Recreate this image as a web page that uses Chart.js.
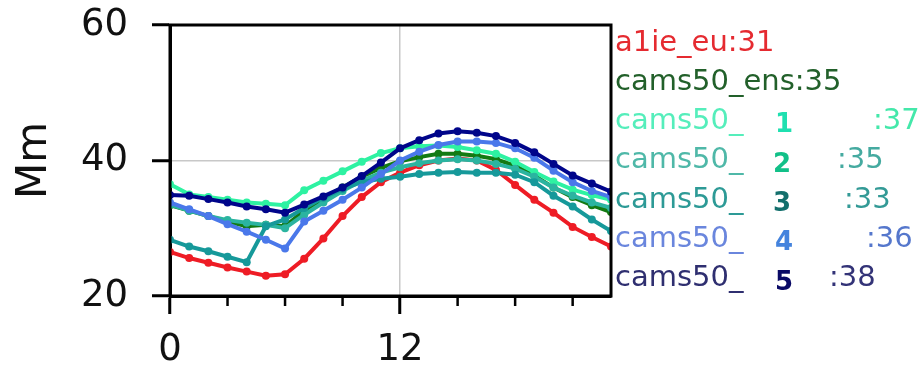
<!DOCTYPE html>
<html>
<head>
<meta charset="utf-8">
<script src="https://cdn.jsdelivr.net/npm/chart.js@4"></script>
<style>
  html, body { margin: 0; padding: 0; background: #fff; }
  #wrap { position: relative; width: 923px; height: 368px; }
</style>
</head>
<body>
<div id="wrap"><canvas id="c" width="923" height="368"></canvas></div>
<script>
// hours 0..23
const hours = Array.from({ length: 24 }, (_, i) => i);

const a1ieEu = [26.5, 25.6, 24.9, 24.2, 23.6, 23.0, 23.2, 25.5, 28.5, 31.8, 34.6, 36.8,
  38.2, 39.3, 40.0, 40.3, 40.0, 38.6, 36.4, 34.2, 32.3, 30.2, 28.7, 27.3];
const cams50Ens = [33.4, 32.6, 31.8, 31.0, 30.3, 30.5, 30.3, 32.6, 34.4, 36.0, 37.6, 38.9,
  39.9, 40.5, 41.0, 41.0, 40.7, 40.2, 39.2, 37.8, 36.0, 34.6, 33.4, 32.4];
const cams50m1 = [36.5, 35.0, 34.6, 34.2, 33.8, 33.6, 33.4, 35.6, 37.0, 38.4, 39.8, 41.1,
  41.8, 42.1, 42.2, 42.0, 41.5, 41.0, 39.8, 38.3, 36.9, 35.7, 34.9, 34.2];
const cams50m2 = [33.5, 32.6, 31.8, 31.2, 30.8, 30.5, 30.0, 32.0, 33.8, 35.5, 37.0, 38.2,
  39.0, 39.6, 40.0, 40.2, 40.0, 39.5, 38.8, 37.6, 36.0, 34.8, 33.8, 33.0];
const cams50m3 = [28.3, 27.3, 26.6, 25.8, 25.0, 30.3, 31.3, 33.0, 34.5, 35.8, 36.8, 37.3,
  37.6, 38.0, 38.2, 38.3, 38.2, 38.2, 37.9, 36.8, 34.8, 33.2, 31.3, 29.6];
const cams50m4 = [33.8, 32.8, 31.8, 30.6, 29.5, 28.3, 27.0, 31.0, 32.6, 34.2, 36.0, 38.0,
  40.0, 41.3, 42.3, 42.8, 42.8, 42.6, 41.8, 40.4, 38.5, 36.8, 35.5, 34.6];
const cams50m5 = [34.9, 34.8, 34.3, 33.8, 33.2, 32.8, 32.3, 33.5, 34.7, 36.0, 37.7, 39.7,
  41.8, 43.0, 44.0, 44.3, 44.1, 43.6, 42.6, 41.2, 39.5, 37.8, 36.6, 35.4];

const seriesNames = ["a1ie_eu", "cams50_ens", "cams50_1", "cams50_2", "cams50_3", "cams50_4", "cams50_5"];
const seriesScores = ["31", "35", "37", "35", "33", "36", "38"];
const yTicks = [20, 40, 60];
const xLabelTicks = [0, 12];

const lineColors = ["#ee1c25", "#137a13", "#2ef2a2", "#2bb4a0", "#16999a", "#4a78ea", "#00058a"];
const allValues = [a1ieEu, cams50Ens, cams50m1, cams50m2, cams50m3, cams50m4, cams50m5];

const datasets = allValues.map((vals, i) => ({
  label: seriesNames[i],
  data: vals.map((v, k) => ({ x: hours[k], y: v })),
  borderColor: lineColors[i],
  backgroundColor: lineColors[i],
  borderWidth: 4,
  pointRadius: 4,
  pointBorderWidth: 0,
  tension: 0,
  order: 6 - i,
}));

// legend text pieces: text, x offset, colour, bold
const legendRows = [
  [["a1ie_eu:" + seriesScores[0], 0, "#e52a30", false]],
  [["cams50_ens:" + seriesScores[1], 0, "#22602a", false]],
  [["cams50_", 0, "#55eebb", false], ["1", 160, "#1fe0b0", true], [":" + seriesScores[2], 258, "#44e8aa", false]],
  [["cams50_", 0, "#4fb8a8", false], ["2", 158, "#12c088", true], [":" + seriesScores[3], 222, "#45aaa0", false]],
  [["cams50_", 0, "#2d9a96", false], ["3", 158, "#136f6c", true], [":" + seriesScores[4], 229, "#339a96", false]],
  [["cams50_", 0, "#6a86dd", false], ["4", 160, "#4483dd", true], [":" + seriesScores[5], 251, "#5577cc", false]],
  [["cams50_", 0, "#2f2f70", false], ["5", 160, "#0a0a66", true], [":" + seriesScores[6], 214, "#333377", false]],
];

const framePlugin = {
  id: "frame",
  afterDraw(chart) {
    const ctx = chart.ctx;
    const a = chart.chartArea;
    const xs = chart.scales.x;
    ctx.save();
    // box
    ctx.strokeStyle = "#000";
    ctx.lineWidth = 3;
    ctx.strokeRect(a.left, a.top, a.right - a.left, a.bottom - a.top);
    // minor ticks every 3 hours
    ctx.lineWidth = 2.5;
    xs.ticks.forEach((t) => {
      if (t.value % 12 !== 0) {
        const px = xs.getPixelForValue(t.value);
        ctx.beginPath();
        ctx.moveTo(px, a.bottom);
        ctx.lineTo(px, a.bottom + 10);
        ctx.stroke();
      }
    });
    // legend text
    ctx.textBaseline = "middle";
    const x0 = a.right + 4;
    legendRows.forEach((row, i) => {
      const y = 43 + i * 39.3;
      row.forEach(([txt, dx, col, bold]) => {
        ctx.fillStyle = col;
        ctx.font = (bold ? "bold 26px" : "29px") + " 'DejaVu Sans'";
        ctx.fillText(txt, x0 + dx, bold ? y + 4 : y);
      });
    });
    ctx.restore();
  },
};

new Chart(document.getElementById("c"), {
  type: "line",
  data: { datasets: datasets },
  options: {
    responsive: false,
    animation: false,
    layout: { padding: { left: 0, right: 312, top: 25, bottom: 0 } },
    plugins: { legend: { display: false }, tooltip: { enabled: false } },
    scales: {
      x: {
        type: "linear",
        min: 0,
        max: 23,
        afterFit(scale) {
          scale.height = 72;
          scale.paddingLeft = 0;
          scale.paddingRight = 0;
        },
        afterBuildTicks(scale) {
          scale.ticks = hours.filter((h) => h % 3 === 0).map((h) => ({ value: h }));
        },
        border: { display: true, color: "#000", width: 3 },
        grid: {
          color: (c) => (c.tick && c.tick.value === xLabelTicks[1] ? "#c8c8c8" : "rgba(0,0,0,0)"),
          lineWidth: 1.5,
          tickLength: 18,
          tickColor: (c) => (c.tick && xLabelTicks.includes(c.tick.value) ? "#000" : "rgba(0,0,0,0)"),
          tickWidth: 3,
        },
        ticks: {
          autoSkip: false,
          maxRotation: 0,
          padding: 14,
          color: "#111",
          font: { family: "DejaVu Sans", size: 37 },
          callback: (v) => (xLabelTicks.includes(v) ? String(v) : ""),
        },
      },
      y: {
        min: 20,
        max: 60,
        afterFit(scale) {
          scale.width = 170;
          scale.paddingTop = 0;
          scale.paddingBottom = 0;
        },
        afterBuildTicks(scale) {
          scale.ticks = yTicks.map((v) => ({ value: v }));
        },
        border: { display: true, color: "#000", width: 3 },
        grid: {
          color: (c) => (c.tick && c.tick.value === 40 ? "#c8c8c8" : "rgba(0,0,0,0)"),
          lineWidth: 1.5,
          tickLength: 18,
          tickColor: "#000",
          tickWidth: 3,
        },
        ticks: {
          padding: 24,
          color: "#111",
          font: { family: "DejaVu Sans", size: 37 },
        },
        title: {
          display: true,
          text: "Mm",
          color: "#111",
          padding: { top: 10, bottom: 0 },
          font: { family: "DejaVu Sans", size: 42 },
        },
      },
    },
  },
  plugins: [framePlugin],
});
</script>
</body>
</html>
